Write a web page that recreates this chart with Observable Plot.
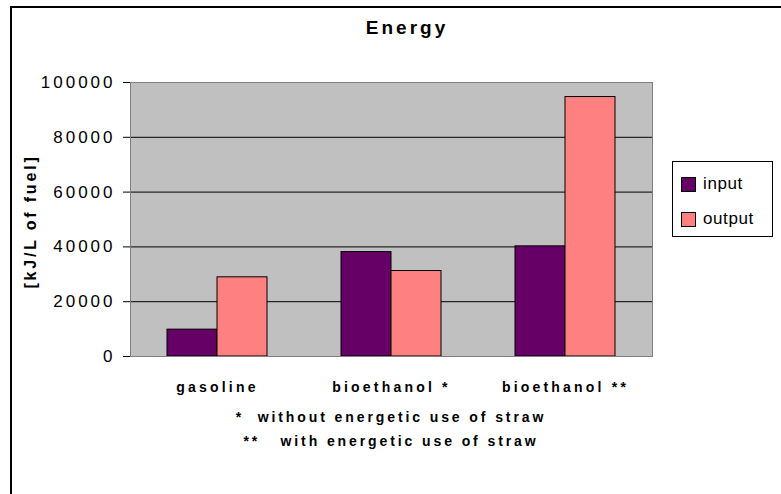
<!DOCTYPE html>
<html>
<head>
<meta charset="utf-8">
<script src="https://cdn.jsdelivr.net/npm/d3@7"></script>
<script src="https://cdn.jsdelivr.net/npm/@observablehq/plot@0.6"></script>
<style>
  html, body { margin: 0; padding: 0; background: #fff; }
  #wrap { position: relative; width: 781px; height: 494px; overflow: hidden; background: #fff;
          font-family: "Liberation Sans", Arial, sans-serif; color: #000; }
  #border { position: absolute; left: 10px; top: 6px; width: 900px; height: 700px;
            border-left: 2px solid #000; border-top: 2px solid #000; }
  #chart { position: absolute; left: 0; top: 0; }
  #title { position: absolute; left: 0; width: 814px; top: 17px; text-align: center;
           font-weight: bold; font-size: 19px; letter-spacing: 3px; }
  #legend { position: absolute; left: 672px; top: 161px; width: 101px; height: 76px;
            border: 1px solid #000; box-sizing: border-box; background: #fff; }
  .item { position: absolute; left: 8px; height: 16px; display: flex; align-items: center;
          font-size: 17px; letter-spacing: 0.6px; }
  .sw { width: 15px; height: 15px; border: 1px solid #000; margin-right: 7px; box-sizing: border-box; }
  .note { position: absolute; left: 0; width: 782px; text-align: center; font-weight: bold;
          font-size: 14px; letter-spacing: 2.9px; white-space: pre; }
  [aria-label="y-axis tick label"] text { letter-spacing: 3px; }
  [aria-description="category labels"] text { letter-spacing: 3.2px; }
  [aria-description="y label"] text { letter-spacing: 2.8px; }
</style>
</head>
<body>
<div id="wrap">
  <div id="border"></div>
  <div id="chart"></div>
  <div id="title">Energy</div>
  <div id="legend"></div>
  <div class="note" style="top:409px">*  without energetic use of straw</div>
  <div class="note" style="top:433px">**   with energetic use of straw</div>
</div>
<script>
const categories = ["gasoline", "bioethanol *", "bioethanol **"];
const series = ["input", "output"];
const inputValues = [9800, 38100, 40200];
const outputValues = [28900, 31200, 94700];
const yTicks = [0, 20000, 40000, 60000, 80000, 100000];
const seriesColors = ["#660066", "#FF8080"];
const yLabel = "[kJ/L of fuel]";

// layout of bars inside each category slot (fractions of the slot)
const barW = 50 / 174;
const gap = (1 - 2 * barW) / 2;

const rows = [];
categories.forEach((c, i) => {
  rows.push({category: c, series: "input", value: inputValues[i], x1: i + gap, x2: i + gap + barW});
  rows.push({category: c, series: "output", value: outputValues[i], x1: i + gap + barW, x2: i + gap + 2 * barW});
});

const chart = Plot.plot({
  width: 781,
  height: 494,
  marginTop: 82,
  marginBottom: 138,
  marginLeft: 130,
  marginRight: 129,
  style: {background: "transparent", fontFamily: "'Liberation Sans', Arial, sans-serif", color: "#000"},
  x: {domain: [0, categories.length], axis: null},
  y: {domain: [0, 100000], axis: null},
  color: {domain: series, range: seriesColors},
  marks: [
    Plot.frame({fill: "#C0C0C0", stroke: null}),
    Plot.ruleY(yTicks.filter(d => d > 0 && d < 100000), {stroke: "#000", strokeWidth: 1}),
    Plot.rectY(rows, {x1: "x1", x2: "x2", y: "value", fill: "series", stroke: "#000", strokeWidth: 1}),
    Plot.frame({stroke: "#808080", strokeWidth: 1}),
    Plot.axisY({ticks: yTicks, tickSize: 7, tickPadding: 8, tickFormat: d3.format("d"),
                fontSize: 17, label: null, stroke: "#000"}),
    Plot.text(categories, {x: (d, i) => i + 0.5, frameAnchor: "bottom", dy: 35, text: d => d,
                fontSize: 14, fontWeight: "bold", fill: "#000", ariaDescription: "category labels"}),
    Plot.text([yLabel], {frameAnchor: "left", textAnchor: "middle", dx: -100, dy: 2, rotate: -90, text: d => d,
                fontSize: 16, fontWeight: "bold", fill: "#000", ariaDescription: "y label"})
  ]
});
document.getElementById("chart").appendChild(chart);

const legend = document.getElementById("legend");
series.forEach((s, i) => {
  const item = document.createElement("div");
  item.className = "item";
  item.style.top = (14 + i * 35) + "px";
  const sw = document.createElement("span");
  sw.className = "sw";
  sw.style.background = seriesColors[i];
  const label = document.createElement("span");
  label.textContent = s;
  item.appendChild(sw);
  item.appendChild(label);
  legend.appendChild(item);
});
</script>
</body>
</html>
